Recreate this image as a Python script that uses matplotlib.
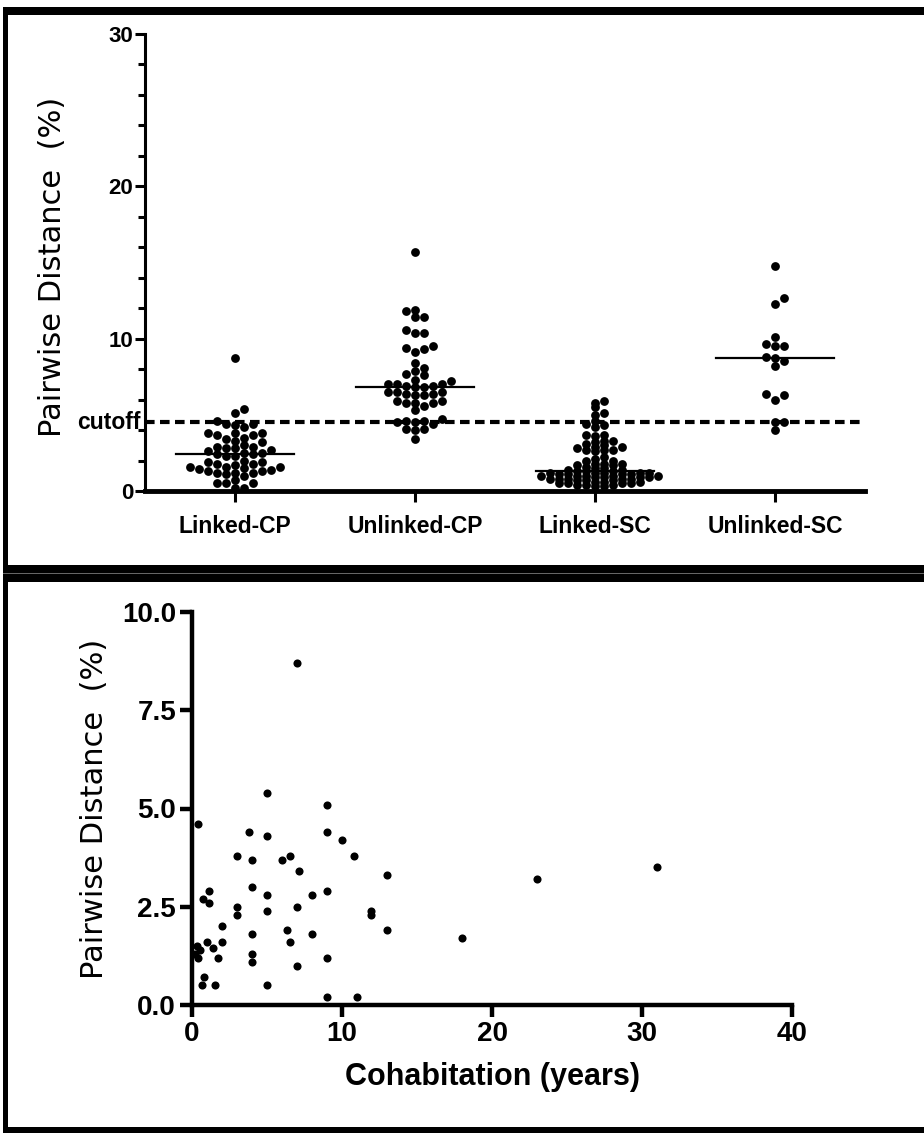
import numpy as np
import matplotlib.pyplot as plt
from matplotlib.patches import Rectangle

W, H = 924, 1133

groups = ["Linked-CP", "Unlinked-CP", "Linked-SC", "Unlinked-SC"]

# cohabitation (years) vs pairwise distance (%) for linked couples
cohab_years = [7.0, 5.0, 9.0, 0.4, 3.8, 5.0, 9.0, 10.0, 3.0, 4.0, 6.0, 6.5, 10.8, 7.1,
               13.0, 4.0, 9.0, 5.0, 8.0, 1.1, 0.7, 1.15, 3.0, 3.0, 7.0, 5.0, 11.9, 11.9,
               13.0, 2.0, 2.0, 4.0, 6.3, 6.5, 8.0, 1.0, 0.3, 0.5, 0.2, 0.4, 1.4, 1.7,
               4.0, 4.0, 7.0, 9.0, 0.8, 0.65, 1.5, 5.0, 9.0, 11.0, 18.0, 23.0, 31.0]
cohab_dist = [8.7, 5.4, 5.1, 4.6, 4.4, 4.3, 4.4, 4.2, 3.8, 3.7, 3.7, 3.8, 3.8, 3.4,
              3.3, 3.0, 2.9, 2.8, 2.8, 2.9, 2.7, 2.6, 2.5, 2.3, 2.5, 2.4, 2.4, 2.3,
              1.9, 2.0, 1.6, 1.8, 1.9, 1.6, 1.8, 1.6, 1.5, 1.4, 1.3, 1.2, 1.45, 1.2,
              1.3, 1.1, 1.0, 1.2, 0.7, 0.5, 0.5, 0.5, 0.2, 0.2, 1.7, 3.2, 3.5]

linked_cp = cohab_dist
unlinked_cp = [15.7, 11.9, 11.8, 11.4, 11.4, 10.6, 10.4, 10.4, 9.5, 9.4, 9.3, 9.1, 8.4,
               8.1, 7.9, 7.7, 7.6, 7.3, 7.2, 7.0, 7.0, 7.0, 6.9, 6.9, 6.8, 6.8, 6.5, 6.5,
               6.5, 6.4, 6.4, 6.3, 6.3, 5.9, 5.9, 5.8, 5.8, 5.8, 5.6, 5.3, 4.7, 4.6, 4.6,
               4.5, 4.5, 4.4, 4.1, 4.1, 4.0, 3.4]
linked_sc = [5.9, 5.8, 5.5, 5.1, 5.0, 4.6, 4.4, 4.3, 4.2, 3.7, 3.7, 3.6, 3.3, 3.3, 3.2,
             3.1, 3.0, 2.9, 2.9, 2.8, 2.7, 2.7, 2.7, 2.6, 2.2, 2.1, 2.0, 2.0,
             1.8, 1.8, 1.8, 1.7, 1.7, 1.6, 1.5, 1.5, 1.4, 1.4, 1.3, 1.3, 1.3,
             1.2, 1.2, 1.2, 1.2, 1.2, 1.1, 1.1, 1.1, 1.1, 1.0, 1.0, 1.0, 1.0, 1.0,
             0.9, 0.9, 0.9, 0.9, 0.8, 0.8, 0.8, 0.8, 0.8, 0.7, 0.7, 0.7, 0.6, 0.6,
             0.6, 0.5, 0.5, 0.5, 0.5, 0.4, 0.4, 0.4, 0.3, 0.3]
unlinked_sc = [14.8, 12.7, 12.3, 10.1, 9.5, 9.5, 9.65, 8.7, 8.2, 8.55, 8.8, 6.3, 6.0,
               6.4, 4.5, 4.5, 4.0]
cutoff = 4.5

BOLD = ["Liberation Sans", "DejaVu Sans"]
LABEL = ["DejaVu Sans"]


def swarm_offsets(values, dot_px, px_per_y, px_per_x, overlap=0.8):
    # simple beeswarm on a grid of dot-sized columns
    order = np.argsort(values)
    placed = []
    offs = np.zeros(len(values))
    ks = [0]
    for k in range(1, 60):
        ks += [k, -k]
    for i in order:
        y = values[i] * px_per_y
        for k in ks:
            x = k * dot_px
            ok = all((x - px) ** 2 + (y - py) ** 2 >= (overlap * dot_px) ** 2 for px, py in placed)
            if ok:
                placed.append((x, y))
                offs[i] = x / px_per_x
                break
    return offs


def px_rect(fig, x0, y0, x1, y1, color="black"):
    fig.add_artist(Rectangle((x0 / W, 1 - y1 / H), (x1 - x0) / W, (y1 - y0) / H,
                             transform=fig.transFigure, color=color, lw=0))


fig = plt.figure(figsize=(W / 100, H / 100), dpi=100)

# ---- top panel
ax1 = fig.add_axes([145 / W, 1 - 491 / H, 720 / W, (491 - 34) / H])
ax1.set_xlim(-0.5, 3.5)
ax1.set_ylim(0, 30)
ppy = (491 - 34) / 30
ppx = 720 / 4
data = [linked_cp, unlinked_cp, linked_sc, unlinked_sc]
packing = [0.8, 0.8, 0.5, 0.8]
for i, vals in enumerate(data):
    vals = np.array(vals)
    offs = swarm_offsets(vals, 9, ppy, ppx, packing[i])
    ax1.scatter(i + offs, vals, s=40, color="black", zorder=3, clip_on=False, linewidths=0)
    med = np.median(vals)
    ax1.plot([i - 0.33, i + 0.33], [med, med], color="black", lw=1.6, zorder=4)
ax1.axhline(cutoff, color="black", lw=3, dashes=(2.3, 1.3), zorder=2)

for s in ["top", "right"]:
    ax1.spines[s].set_visible(False)
ax1.spines["left"].set_linewidth(2.2)
ax1.spines["bottom"].set_linewidth(3.5)
ax1.set_yticks([0, 10, 20, 30])
ax1.set_yticks(np.arange(0, 30, 2), minor=True)
ax1.tick_params(axis="y", which="major", length=7.5, width=2.2, pad=1)
ax1.tick_params(axis="y", which="minor", length=5, width=2.2)
ax1.set_xticks(range(4))
ax1.set_xticklabels(groups)
ax1.tick_params(axis="x", length=8, width=2.2, pad=9)
for lab in ax1.get_yticklabels():
    lab.set_fontfamily(BOLD)
    lab.set_fontweight("bold")
    lab.set_fontsize(16)
for lab in ax1.get_xticklabels():
    lab.set_fontfamily(BOLD)
    lab.set_fontweight("bold")
    lab.set_fontsize(16.5)
ax1.text(-0.006, cutoff, "cutoff", transform=ax1.get_yaxis_transform(), ha="right",
         va="center", family=BOLD, fontweight="bold", fontsize=16.5)
ax1.set_ylabel("Pairwise Distance  (%)", family=LABEL, fontsize=22)
ax1.yaxis.set_label_coords(-0.108, 0.49)

# ---- bottom panel
ax2 = fig.add_axes([192 / W, 1 - 1005 / H, 600 / W, (1005 - 612) / H])
ax2.scatter(cohab_years, cohab_dist, s=34, color="black", zorder=3, clip_on=False, linewidths=0)
ax2.set_xlim(0, 40)
ax2.set_ylim(0, 10)
for s in ["top", "right"]:
    ax2.spines[s].set_visible(False)
ax2.spines["left"].set_linewidth(3.2)
ax2.spines["bottom"].set_linewidth(3.2)
ax2.set_xticks([0, 10, 20, 30, 40])
ax2.set_yticks([0, 2.5, 5.0, 7.5, 10.0])
ax2.set_yticklabels(["0.0", "2.5", "5.0", "7.5", "10.0"])
ax2.tick_params(length=8.5, width=3.2, pad=3)
for lab in ax2.get_xticklabels() + ax2.get_yticklabels():
    lab.set_fontfamily(BOLD)
    lab.set_fontweight("bold")
    lab.set_fontsize(20)
ax2.set_xlabel("Cohabitation (years)", family=BOLD, fontweight="bold", fontsize=22)
ax2.xaxis.set_label_coords(0.5, -0.145)
ax2.set_ylabel("Pairwise Distance  (%)", family=LABEL, fontsize=22)
ax2.yaxis.set_label_coords(-0.138, 0.5)

# ---- panel frames
px_rect(fig, 3, 7, W, 15)
px_rect(fig, 3, 7, 8, H)
px_rect(fig, 3, 565, W, 582)
px_rect(fig, 3, 573, W, 574, color="#666666")
px_rect(fig, 3, 1127, W, H)

fig.savefig("out.png", dpi=100)
